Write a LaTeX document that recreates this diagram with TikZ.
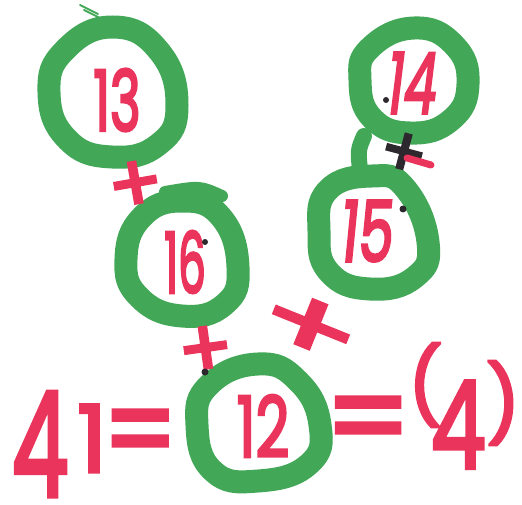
\documentclass[tikz,border=0pt]{standalone}
\usepackage{fontspec}
\setmainfont{Poppins}
\newfontfamily\hand{Poppins}[FakeBold=3.5]
\usepackage{graphicx}
\definecolor{mk}{RGB}{66,168,88}
\definecolor{pk}{RGB}{234,52,92}
\definecolor{ink}{RGB}{45,40,45}
\begin{document}
\begin{tikzpicture}[x=1pt,y=-1pt,
  ring/.style={draw=mk,line width=23pt,line join=round},
  tail/.style={draw=mk,line cap=round},
  num/.style={text=pk,inner sep=0pt,font=\hand\fontsize{84}{84}\selectfont},
  plus/.style={text=pk,inner sep=0pt,font=\hand\fontsize{80}{80}\selectfont},
  big/.style={text=pk,inner sep=0pt,anchor=base west,font=\hand}]
\useasboundingbox (0,0) rectangle (522,505);
\fill[white] (0,0) rectangle (522,505);
% rings
\draw[ring] plot[smooth cycle,tension=0.8] coordinates {(113,27) (159,51) (177,105) (159,144) (112,157) (67,139) (49,92) (65,50)};
\draw[ring] plot[smooth cycle,tension=0.8] coordinates {(414,28) (454,45) (468,84) (451,120) (410,133) (372,118) (360,80) (370,48)};
\draw[ring] plot[smooth cycle,tension=0.8] coordinates {(372,176) (405,188) (428,242) (415,277) (370,289) (329,272) (319,231) (328,190)};
\draw[ring] plot[smooth cycle,tension=0.8] coordinates {(182,201) (221,217) (238,267) (225,304) (182,316) (139,297) (126,259) (142,217)};
\draw[ring] plot[smooth cycle,tension=0.8] coordinates {(258,364) (298,381) (320,425) (309,464) (258,481) (213,471) (197,425) (209,385)};
% tails
\draw[tail,line width=2pt] (80,5) -- (98,14);
\draw[tail,line width=2pt] (84,10) -- (100,18);
\draw[tail,line width=16pt] (360,170) .. controls (358,150) .. (364,136);
\draw[tail,line width=12pt] (165,192) .. controls (200,186) .. (222,196);
% numbers in rings
\node[num,xscale=0.62] (n13) at (117,100) {13};
\node[num,xscale=0.62,xslant=0.2] (n14) at (413,83) {14};
\node[num,xscale=0.66,xslant=0.15] (n15) at (368,231) {15};
\node[num,xscale=0.52] (n16) at (185,262) {16};
\node[num,xscale=0.7] (n12) at (263,426) {12};
% operators
\node[plus,rotate=10] (p1) at (136,187) {+};
\node[plus,rotate=8] (p2) at (206,352) {+};
\node[plus,rotate=-22,xscale=1.6,font=\hand\fontsize{92}{92}\selectfont] (p3) at (309,329) {+};
\node[plus,rotate=-15,text=ink,font=\hand\fontsize{68}{68}\selectfont] (p4) at (403,155) {+};
\draw[pk,line width=7pt,line cap=round] (407,158) -- (431,165);
% equations
\node[big] (lhs) at (0,472) {\makebox[80pt][c]{\raisebox{-24pt}{\scalebox{0.62}[1]{\fontsize{145}{145}\selectfont 4}}}\makebox[24pt][c]{\fontsize{93}{93}\selectfont 1}\makebox[72pt][c]{\scalebox{0.86}[1]{\fontsize{120}{120}\selectfont =}}};
\node[big] (rhs) at (340,468) {\makebox[56pt][c]{\raisebox{9pt}{\fontsize{120}{120}\selectfont =}}\makebox[58pt][c]{\raisebox{55pt}{\fontsize{75}{75}\selectfont (}}\kern-23pt\makebox[54pt][c]{\scalebox{0.72}[1]{\fontsize{121}{121}\selectfont 4}}\makebox[36pt][c]{\raisebox{37pt}{\fontsize{75}{75}\selectfont )}}};
% ink marks
\fill[ink] (205,372) circle (3.5);
\fill[ink] (403,209) circle (3.5);
\fill[ink] (205,242) circle (3);
\fill[ink] (386,100) circle (3);
\end{tikzpicture}
\end{document}
